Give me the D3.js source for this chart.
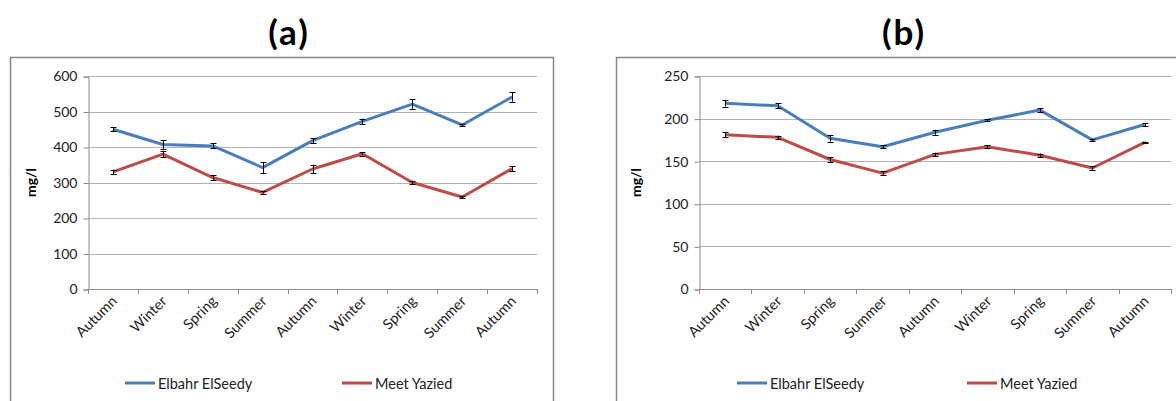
<!DOCTYPE html>
<html>
<head>
<meta charset="utf-8">
<script src="https://cdn.jsdelivr.net/npm/d3@7"></script>
<style>
  html, body { margin: 0; padding: 0; background: #fff; }
  svg { display: block; }
  text { font-family: Lato, "Open Sans", "Liberation Sans", sans-serif; }
</style>
</head>
<body>
<svg id="chart" width="1176" height="401"></svg>
<script>
// ---- data ----
const categories = ["Autumn", "Winter", "Spring", "Summer", "Autumn", "Winter", "Spring", "Summer", "Autumn"];
const seriesNames = ["Elbahr ElSeedy", "Meet Yazied"];

const aElbahr = [450, 407, 403, 342, 418, 472, 521, 462, 541];
const aElbahrErr = [5, 12, 7, 15, 7, 8, 13, 3, 13];
const aMeet = [330, 380, 314, 272, 338, 381, 300, 259, 339];
const aMeetErr = [6, 8, 7, 3, 12, 5, 5, 3, 7];
const aTicks = [0, 100, 200, 300, 400, 500, 600];

const bElbahr = [218, 215, 177, 167, 184, 198, 210, 175, 193];
const bElbahrErr = [4, 3, 4, 2, 3, 1, 2, 1, 2];
const bMeet = [181, 178, 152, 136, 158, 167, 157, 142, 172];
const bMeetErr = [3, 2, 3, 2, 2, 2, 2, 2, 1];
const bTicks = [0, 50, 100, 150, 200, 250];

const colors = ["#4a7ebb", "#be4b48"];

const svg = d3.select("#chart");

function drawPanel(cfg) {
  const g = svg.append("g");
  // outer chart border
  g.append("rect")
    .attr("x", cfg.box[0] + 0.5).attr("y", cfg.box[1] + 0.5)
    .attr("width", cfg.box[2]).attr("height", cfg.box[3])
    .attr("fill", "none").attr("stroke", "#888").attr("stroke-width", 1.5);

  // title
  g.append("text")
    .attr("x", cfg.titleX).attr("y", 45)
    .attr("text-anchor", "middle")
    .attr("font-size", 35).attr("font-weight", "bold")
    .attr("letter-spacing", 2)
    .attr("fill", "#000")
    .text(cfg.title);

  const x = d3.scaleBand().domain(d3.range(categories.length)).range([cfg.left, cfg.right]);
  const y = d3.scaleLinear().domain([0, cfg.ticks[cfg.ticks.length - 1]]).range([cfg.bottom, cfg.top]);

  // gridlines
  g.append("g").selectAll("line").data(cfg.ticks.slice(1)).join("line")
    .attr("x1", cfg.left).attr("x2", cfg.right)
    .attr("y1", d => Math.round(y(d)) + 0.5).attr("y2", d => Math.round(y(d)) + 0.5)
    .attr("stroke", "#b3b3b3").attr("stroke-width", 1);

  // y axis
  const yAxis = d3.axisLeft(y).tickValues(cfg.ticks).tickSize(5).tickPadding(6);
  const ya = g.append("g").attr("transform", `translate(${cfg.left + 0.5},0.5)`).call(yAxis);
  ya.select(".domain").attr("stroke", "#8c8c8c");
  ya.selectAll(".tick line").attr("stroke", "#8c8c8c");
  ya.selectAll(".tick text").attr("font-size", 14).attr("fill", "#222")
    .style("font-family", "Lato, 'Open Sans', sans-serif");

  // x axis (ticks at band boundaries)
  const bounds = d3.range(categories.length + 1).map(i => cfg.left + i * x.step());
  g.append("line").attr("x1", cfg.left).attr("x2", cfg.right)
    .attr("y1", cfg.bottom + 0.5).attr("y2", cfg.bottom + 0.5).attr("stroke", "#8c8c8c");
  g.append("g").selectAll("line").data(bounds).join("line")
    .attr("x1", d => Math.round(d) + 0.5).attr("x2", d => Math.round(d) + 0.5)
    .attr("y1", cfg.bottom).attr("y2", cfg.bottom + 5).attr("stroke", "#8c8c8c");
  g.append("g").selectAll("text").data(categories).join("text")
    .attr("transform", (d, i) => `translate(${x(i) + x.bandwidth() / 2 + 5},${cfg.bottom + 13}) rotate(-45)`)
    .attr("text-anchor", "end")
    .attr("font-size", 14.5).attr("fill", "#222")
    .text(d => d);

  // y label
  g.append("text")
    .attr("transform", `translate(${cfg.yLabelX},${(cfg.top + cfg.bottom) / 2}) rotate(-90)`)
    .attr("text-anchor", "middle")
    .attr("font-size", 14).attr("font-weight", "bold").attr("fill", "#000")
    .text("mg/l");

  // series
  const series = [
    { vals: cfg.s1, err: cfg.e1, color: colors[0] },
    { vals: cfg.s2, err: cfg.e2, color: colors[1] }
  ];
  const line = d3.line().x((d, i) => x(i) + x.bandwidth() / 2).y(d => y(d));
  series.forEach(s => {
    g.append("path").datum(s.vals)
      .attr("d", line).attr("fill", "none")
      .attr("stroke", s.color).attr("stroke-width", 3)
      .attr("stroke-linejoin", "round");
  });
  // error bars
  series.forEach(s => {
    const eb = g.append("g").attr("stroke", "#000").attr("stroke-width", 1);
    s.vals.forEach((v, i) => {
      const cx = Math.round(x(i) + x.bandwidth() / 2) + 0.5;
      const y1 = y(v - s.err[i]), y2 = y(v + s.err[i]);
      eb.append("line").attr("x1", cx).attr("x2", cx).attr("y1", y1).attr("y2", y2);
      eb.append("line").attr("x1", cx - 3).attr("x2", cx + 3).attr("y1", Math.round(y1) + 0.5).attr("y2", Math.round(y1) + 0.5);
      eb.append("line").attr("x1", cx - 3).attr("x2", cx + 3).attr("y1", Math.round(y2) + 0.5).attr("y2", Math.round(y2) + 0.5);
    });
  });

  // legend
  cfg.legendX.forEach((lx, k) => {
    g.append("line").attr("x1", lx).attr("x2", lx + 30)
      .attr("y1", 383).attr("y2", 383)
      .attr("stroke", colors[k]).attr("stroke-width", 3);
    g.append("text").attr("x", lx + 33).attr("y", 388.5)
      .attr("font-size", 14.5).attr("fill", "#222")
      .text(seriesNames[k]);
  });
}

drawPanel({
  box: [10, 57, 543, 360], title: "(a)", titleX: 289,
  left: 88, right: 537, top: 76, bottom: 289, ticks: aTicks, yLabelX: 36,
  s1: aElbahr, e1: aElbahrErr, s2: aMeet, e2: aMeetErr,
  legendX: [125, 342]
});
drawPanel({
  box: [616, 57, 580, 360], title: "(b)", titleX: 904,
  left: 699, right: 1171, top: 76, bottom: 289, ticks: bTicks, yLabelX: 641,
  s1: bElbahr, e1: bElbahrErr, s2: bMeet, e2: bMeetErr,
  legendX: [737, 967]
});
</script>
</body>
</html>
